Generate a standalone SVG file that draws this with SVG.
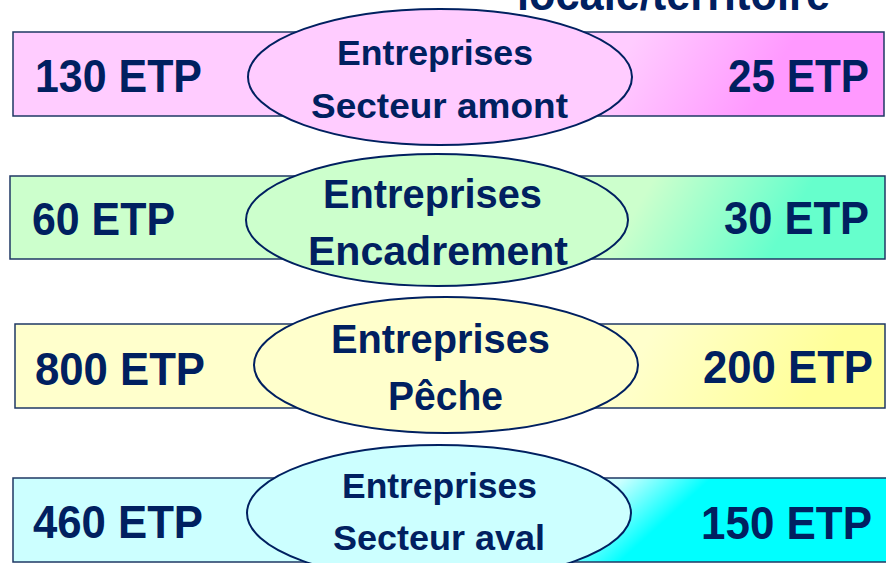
<svg xmlns="http://www.w3.org/2000/svg" width="886" height="563" viewBox="0 0 886 563">
  <style>
    .t { font-family: "Liberation Sans", Arial, sans-serif; font-weight: bold; fill: #002060; }
    .num { font-size: 46px; }
    .lbl1 { font-size: 35px; }
    .lbl2 { font-size: 40px; }
    .band { stroke: #1F3864; stroke-width: 1.5; }
    .oval { stroke: #002060; stroke-width: 2; }
  </style>
  <defs>
    <linearGradient id="gPink" gradientUnits="userSpaceOnUse" x1="580" y1="10" x2="820" y2="150">
      <stop offset="0" stop-color="#FFCCFF"/>
      <stop offset="0.22" stop-color="#FFCCFF"/>
      <stop offset="0.72" stop-color="#FF99FF"/>
    </linearGradient>
    <linearGradient id="gGreen" gradientUnits="userSpaceOnUse" x1="590" y1="150" x2="830" y2="290">
      <stop offset="0" stop-color="#CCFFCC"/>
      <stop offset="0.25" stop-color="#CCFFCC"/>
      <stop offset="0.75" stop-color="#66FFCC"/>
    </linearGradient>
    <linearGradient id="gYellow" gradientUnits="userSpaceOnUse" x1="590" y1="300" x2="830" y2="440">
      <stop offset="0" stop-color="#FFFFCC"/>
      <stop offset="0.25" stop-color="#FFFFCC"/>
      <stop offset="0.85" stop-color="#FFFF99"/>
    </linearGradient>
    <linearGradient id="gCyan" gradientUnits="userSpaceOnUse" x1="610" y1="470" x2="660" y2="525">
      <stop offset="0" stop-color="#CCFFFF"/>
      <stop offset="0.2" stop-color="#CCFFFF"/>
      <stop offset="1" stop-color="#00FFFF"/>
    </linearGradient>
  </defs>

  <text id="title-partial" class="t" x="517" y="10" font-size="46" textLength="313" lengthAdjust="spacingAndGlyphs">locale/territoire</text>

  <g id="band-amont">
    <rect class="band" x="13" y="32" width="871" height="84" fill="url(#gPink)"/>
    <text class="t num" x="35" y="92" textLength="167" lengthAdjust="spacingAndGlyphs">130 ETP</text>
    <text class="t num" x="728" y="92" textLength="141" lengthAdjust="spacingAndGlyphs">25 ETP</text>
  </g>
  <g id="node-amont">
    <ellipse class="oval" cx="440" cy="77" rx="192" ry="68" fill="#FFCCFF"/>
    <text class="t lbl1" x="337" y="65" textLength="196" lengthAdjust="spacingAndGlyphs">Entreprises</text>
    <text class="t lbl1" x="311" y="118" textLength="257" lengthAdjust="spacingAndGlyphs">Secteur amont</text>
  </g>

  <g id="band-encadrement">
    <rect class="band" x="10" y="176" width="875" height="83" fill="url(#gGreen)"/>
    <text class="t num" x="32" y="235" textLength="143" lengthAdjust="spacingAndGlyphs">60 ETP</text>
    <text class="t num" x="724" y="234" textLength="145" lengthAdjust="spacingAndGlyphs">30 ETP</text>
  </g>
  <g id="node-encadrement">
    <ellipse class="oval" cx="437" cy="220" rx="191" ry="66" fill="#CCFFCC"/>
    <text class="t lbl2" x="323" y="208" textLength="219" lengthAdjust="spacingAndGlyphs">Entreprises</text>
    <text class="t lbl2" x="308" y="265" textLength="260" lengthAdjust="spacingAndGlyphs">Encadrement</text>
  </g>

  <g id="band-peche">
    <rect class="band" x="15" y="324" width="870" height="84" fill="url(#gYellow)"/>
    <text class="t num" x="35" y="385" textLength="170" lengthAdjust="spacingAndGlyphs">800 ETP</text>
    <text class="t num" x="703" y="383" textLength="170" lengthAdjust="spacingAndGlyphs">200 ETP</text>
  </g>
  <g id="node-peche">
    <ellipse class="oval" cx="446" cy="365" rx="192" ry="68" fill="#FFFFCC"/>
    <text class="t lbl2" x="331" y="353" textLength="219" lengthAdjust="spacingAndGlyphs">Entreprises</text>
    <text class="t lbl2" x="388" y="410" textLength="115" lengthAdjust="spacingAndGlyphs">Pêche</text>
  </g>

  <g id="band-aval">
    <rect class="band" x="13" y="478" width="874" height="84" fill="url(#gCyan)"/>
    <text class="t num" x="33" y="538" textLength="170" lengthAdjust="spacingAndGlyphs">460 ETP</text>
    <text class="t num" x="701" y="539" textLength="171" lengthAdjust="spacingAndGlyphs">150 ETP</text>
  </g>
  <g id="node-aval">
    <ellipse class="oval" cx="439" cy="513" rx="192" ry="68" fill="#CCFFFF"/>
    <text class="t lbl1" x="342" y="498" textLength="195" lengthAdjust="spacingAndGlyphs">Entreprises</text>
    <text class="t lbl1" x="333" y="550" textLength="212" lengthAdjust="spacingAndGlyphs">Secteur aval</text>
  </g>
</svg>
